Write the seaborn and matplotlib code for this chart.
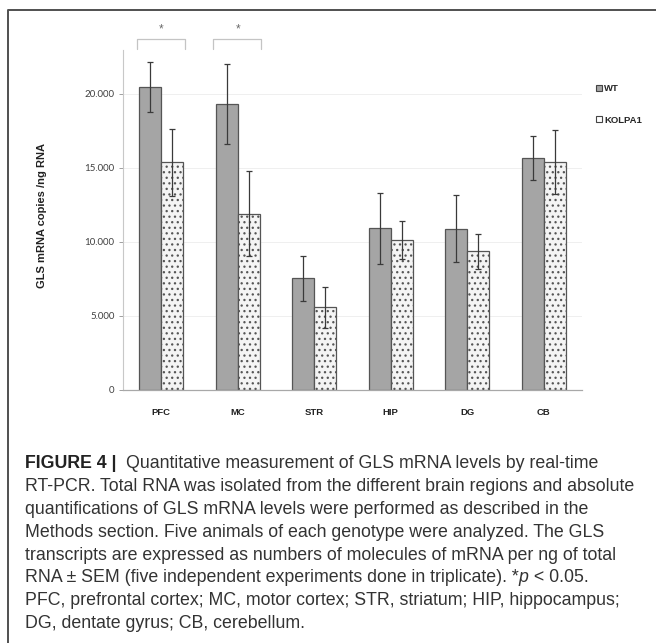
import numpy as np
import pandas as pd
import matplotlib.pyplot as plt
import seaborn as sns
from matplotlib.lines import Line2D
from matplotlib.patches import Patch

sns.set_theme(style="white")
plt.rcParams['font.family'] = ['Liberation Sans', 'DejaVu Sans']
plt.rcParams['hatch.color'] = '#8a8a8a'
plt.rcParams['hatch.linewidth'] = 0.9

# data (copies / ng RNA)
regions = ['PFC', 'MC', 'STR', 'HIP', 'DG', 'CB']
genotypes = ['WT', 'KOLPA1']
wt_mean = [20450, 19300, 7520, 10900, 10880, 15650]
wt_sem = [1690, 2680, 1500, 2400, 2250, 1500]
ko_mean = [15350, 11900, 5570, 10090, 9350, 15400]
ko_sem = [2250, 2850, 1400, 1280, 1180, 2150]
significant = ['PFC', 'MC']

caption_head = "FIGURE 4 |"
# each line is a list of (text, style) pieces
caption_lines = [
    [("Quantitative measurement of GLS mRNA levels by real-time", 'normal')],
    [("RT-PCR. Total RNA was isolated from the different brain regions and absolute", 'normal')],
    [("quantifications of GLS mRNA levels were performed as described in the", 'normal')],
    [("Methods section. Five animals of each genotype were analyzed. The GLS", 'normal')],
    [("transcripts are expressed as numbers of molecules of mRNA per ng of total", 'normal')],
    [("RNA \u00b1 SEM (five independent experiments done in triplicate). *", 'normal'),
     ("p", 'italic'), (" < 0.05.", 'normal')],
    [("PFC, prefrontal cortex; MC, motor cortex; STR, striatum; HIP, hippocampus;", 'normal')],
    [("DG, dentate gyrus; CB, cerebellum.", 'normal')],
]

df = pd.DataFrame({
    'region': regions * 2,
    'genotype': ['WT'] * len(regions) + ['KOLPA1'] * len(regions),
    'copies': wt_mean + ko_mean,
})
errs = {'WT': wt_sem, 'KOLPA1': ko_sem}

W, H = 656, 643
fig = plt.figure(figsize=(W / 100, H / 100), dpi=100)
ax = fig.add_axes([123 / W, 1 - 389.7 / H, (582 - 123) / W, (389.7 - 50) / H])

sns.barplot(data=df, x='region', y='copies', hue='genotype', hue_order=genotypes,
            palette={'WT': '#a5a5a5', 'KOLPA1': '#f4f4f4'}, width=0.575, gap=0,
            errorbar=None, edgecolor='#555555', linewidth=0.9, legend=False, ax=ax)

for cont, g in zip(ax.containers, genotypes):
    xs = [b.get_x() + b.get_width() / 2 for b in cont]
    hs = [b.get_height() for b in cont]
    if g == 'KOLPA1':
        for b in cont:
            b.set_hatch('...')
    ax.errorbar(xs, hs, yerr=errs[g], fmt='none', ecolor='#3a3a3a',
                elinewidth=0.9, capsize=2.3, capthick=0.9, zorder=5)

ax.set_ylim(0, 22950)
ax.set_xlim(-0.5, len(regions) - 0.5)
ax.set_yticks([0, 5000, 10000, 15000, 20000])
ax.set_yticklabels(['0', '5.000', '10.000', '15.000', '20.000'],
                   fontsize=7, color='#404040', family=['Lato', 'DejaVu Sans'])
ax.tick_params(axis='y', left=True, length=3, width=0.7, color='#a0a0a0', pad=3)
ax.tick_params(axis='x', bottom=False, pad=7)
for lbl in ax.get_xticklabels():
    lbl.set_fontsize(6.8)
    lbl.set_fontweight('bold')
    lbl.set_color('#222222')
ax.yaxis.grid(True, color='#efefef', lw=0.7)
ax.set_axisbelow(True)
for s in ['top', 'right']:
    ax.spines[s].set_visible(False)
ax.spines['left'].set_color('#c8c8c8')
ax.spines['left'].set_linewidth(0.8)
ax.spines['bottom'].set_color('#a8a8a8')
ax.spines['bottom'].set_linewidth(0.9)

ax.set_xlabel('')
ax.set_ylabel('GLS mRNA copies /ng RNA', fontsize=8, fontweight='bold', color='#222222')
ax.yaxis.set_label_coords(-0.166, 0.514)

# significance brackets
for r in significant:
    i = regions.index(r)
    ax.plot([i - 0.32, i - 0.32, i + 0.31, i + 0.31], [23000, 23700, 23700, 23000],
            color='#c4c4c4', lw=0.9, clip_on=False)
    ax.text(i, 23950, '*', ha='center', va='bottom', fontsize=8.5, color='#6a6a6a')

handles = [Patch(facecolor='#a5a5a5', edgecolor='#444444', lw=0.8),
           Patch(facecolor='white', edgecolor='#444444', lw=0.8)]
fig.legend(handles, genotypes, loc='upper left', bbox_to_anchor=(596 / W, 1 - 84 / H),
           frameon=False, handlelength=0.6, handleheight=0.6, handletextpad=0.25,
           labelspacing=2.4, borderpad=0, borderaxespad=0,
           prop={'weight': 'bold', 'size': 6.8})

# outer frame
fig.add_artist(Line2D([8 / W, 8 / W, 1], [0, 1 - 10 / H, 1 - 10 / H],
                      transform=fig.transFigure, color='#505050', lw=1.4))

# caption
fs = 12.8
y0 = 464
dy = 22.8
renderer = fig.canvas.get_renderer()
fig.text(25 / W, 1 - y0 / H, caption_head, fontsize=fs, fontweight='bold',
         va='center', ha='left', color='#222222')
for k, pieces in enumerate(caption_lines):
    x = 126 if k == 0 else 25
    y = 1 - (y0 + k * dy) / H
    for txt, style in pieces:
        t = fig.text(x / W, y, txt, fontsize=fs, style=style, va='center',
                     ha='left', color='#333333')
        x = t.get_window_extent(renderer).x1

fig.savefig('out.png', dpi=100)
